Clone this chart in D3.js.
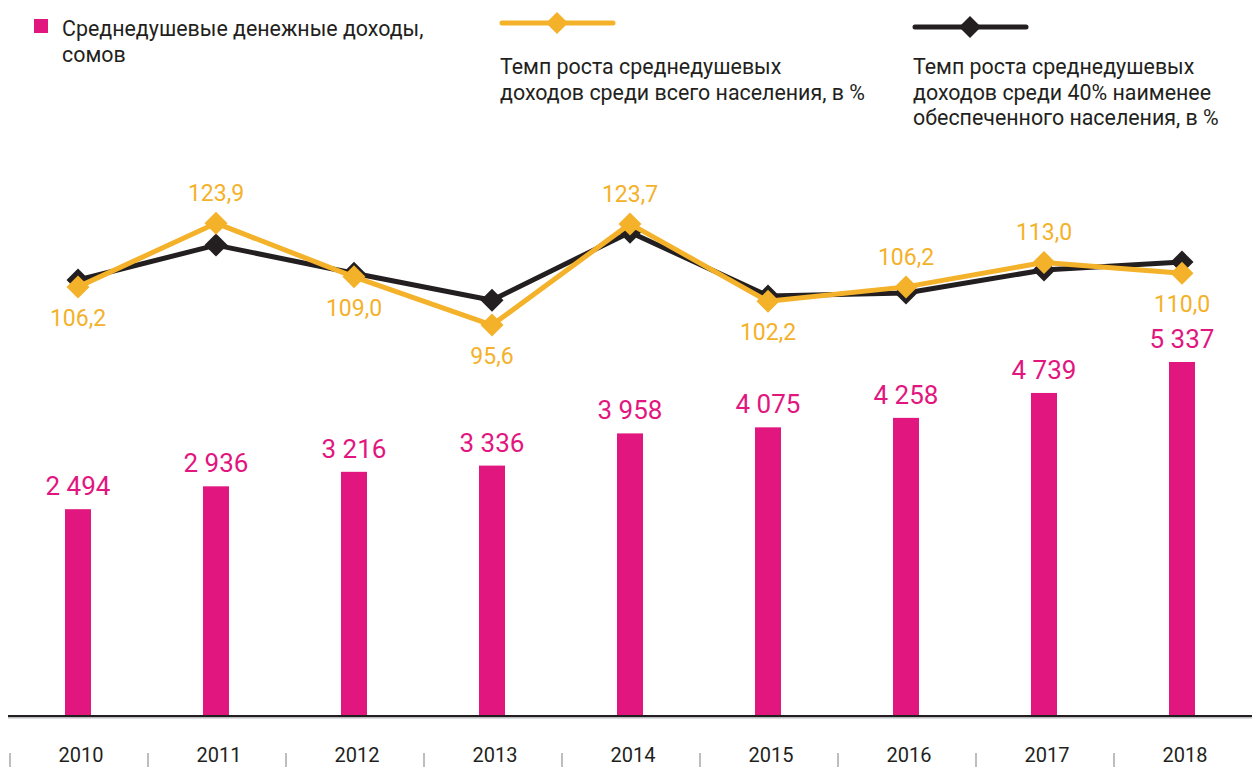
<!DOCTYPE html>
<html>
<head>
<meta charset="utf-8">
<script src="https://cdn.jsdelivr.net/npm/d3@7"></script>
<style>
  html, body { margin: 0; padding: 0; background: #fff; }
  svg { display: block; font-family: Roboto, "Noto Sans", sans-serif; }
</style>
</head>
<body>
<div id="chart"></div>
<script>
// data
const years = ["2010", "2011", "2012", "2013", "2014", "2015", "2016", "2017", "2018"];
const incomes = [2494, 2936, 3216, 3336, 3958, 4075, 4258, 4739, 5337];
const growthAll = [106.2, 123.9, 109.0, 95.6, 123.7, 102.2, 106.2, 113.0, 110.0];
const growthPoor = [108.1, 117.8, 110.0, 102.5, 121.4, 103.7, 104.5, 110.9, 113.1];
const growthLabelSide = ["below", "above", "below", "below", "above", "below", "above", "above", "below"];

const PINK = "#e2167f";
const ORANGE = "#f4b12a";
const DARK = "#231f20";

const width = 1252, height = 767;
const baseY = 716;

const svg = d3.select("#chart").append("svg")
    .attr("width", width)
    .attr("height", height);

const fmtInt = v => d3.format(",")(v).replace(/,/g, " ");
const fmtPct = v => v.toFixed(1).replace(".", ",");

// scales
const x = d3.scaleBand()
    .domain(years)
    .range([9, 1251])
    .padding(0);

const yBar = d3.scaleLinear()
    .domain([-1500, 5337])
    .range([baseY, 362]);

const yLine = d3.scaleLinear()
    .domain([90, 130])
    .range([345.2, 201.2]);

const cx = d => x(d) + x.bandwidth() / 2;

// bars
svg.append("g")
    .selectAll("rect")
    .data(years)
    .join("rect")
    .attr("x", (d) => cx(d) - 13)
    .attr("width", 26)
    .attr("y", (d, i) => yBar(incomes[i]))
    .attr("height", (d, i) => baseY - yBar(incomes[i]))
    .attr("fill", PINK);

svg.append("g")
    .selectAll("text")
    .data(years)
    .join("text")
    .attr("x", d => cx(d))
    .attr("y", (d, i) => yBar(incomes[i]) - 14)
    .attr("text-anchor", "middle")
    .attr("font-size", 26)
    .attr("fill", PINK)
    .text((d, i) => fmtInt(incomes[i]));

// axis
svg.append("line")
    .attr("x1", 8).attr("x2", width)
    .attr("y1", baseY + 1.5).attr("y2", baseY + 1.5)
    .attr("stroke", "#bcbdc0").attr("stroke-width", 2);
svg.append("line")
    .attr("x1", 8).attr("x2", width)
    .attr("y1", baseY).attr("y2", baseY)
    .attr("stroke", DARK).attr("stroke-width", 2);

const xAxis = d3.axisBottom(x).tickSize(0).tickPadding(0);
const axisG = svg.append("g")
    .attr("transform", `translate(0, 762)`)
    .call(xAxis);
axisG.select(".domain").remove();
axisG.selectAll("text")
    .attr("dy", 0)
    .attr("dx", 3)
    .attr("font-family", "Roboto, sans-serif")
    .attr("font-size", 20)
    .attr("fill", DARK);

// separator ticks between years
svg.append("g")
    .selectAll("line")
    .data(years)
    .join("line")
    .attr("x1", d => x(d) + 1).attr("x2", d => x(d) + 1)
    .attr("y1", 753).attr("y2", 767)
    .attr("stroke", "#bcbdc0").attr("stroke-width", 2);

// lines
const diamond = (r) => `M0,${-r}L${r},0L0,${r}L${-r},0Z`;

function drawSeries(values, color) {
    const line = d3.line()
        .x((d, i) => cx(years[i]))
        .y(d => yLine(d));
    svg.append("path")
        .datum(values)
        .attr("d", line)
        .attr("fill", "none")
        .attr("stroke", color)
        .attr("stroke-width", 5)
        .attr("stroke-linejoin", "round");
    svg.append("g")
        .selectAll("path")
        .data(values)
        .join("path")
        .attr("transform", (d, i) => `translate(${cx(years[i])},${yLine(d)})`)
        .attr("d", diamond(11.5))
        .attr("fill", color);
}

drawSeries(growthPoor, DARK);
drawSeries(growthAll, ORANGE);

svg.append("g")
    .selectAll("text")
    .data(growthAll)
    .join("text")
    .attr("x", (d, i) => cx(years[i]))
    .attr("y", (d, i) => yLine(d) + (growthLabelSide[i] === "above" ? -22 : 39))
    .attr("text-anchor", "middle")
    .attr("font-size", 23)
    .attr("fill", ORANGE)
    .text(d => fmtPct(d));

// legend
const legend = svg.append("g").attr("font-size", 21.4).attr("fill", DARK);

legend.append("rect")
    .attr("x", 34).attr("y", 19)
    .attr("width", 14).attr("height", 14)
    .attr("fill", PINK);
legend.append("text")
    .attr("x", 62).attr("y", 36)
    .selectAll("tspan")
    .data(["Среднедушевые денежные доходы,", "сомов"])
    .join("tspan")
    .attr("x", 62)
    .attr("dy", (d, i) => i ? 25.5 : 0)
    .text(d => d);

function lineLegend(x0, y0, color, lines) {
    legend.append("line")
        .attr("x1", x0 + 2).attr("x2", x0 + 113)
        .attr("y1", y0).attr("y2", y0)
        .attr("stroke", color).attr("stroke-width", 5)
        .attr("stroke-linecap", "round");
    legend.append("path")
        .attr("transform", `translate(${x0 + 57},${y0})`)
        .attr("d", diamond(11))
        .attr("fill", color);
    legend.append("text")
        .attr("x", x0).attr("y", 74)
        .selectAll("tspan")
        .data(lines)
        .join("tspan")
        .attr("x", x0)
        .attr("dy", (d, i) => i ? 25.5 : 0)
        .text(d => d);
}

lineLegend(500, 23, ORANGE, ["Темп роста среднедушевых", "доходов среди всего населения, в %"]);
lineLegend(913, 27, DARK, ["Темп роста среднедушевых", "доходов среди 40% наименее", "обеспеченного населения, в %"]);
</script>
</body>
</html>
